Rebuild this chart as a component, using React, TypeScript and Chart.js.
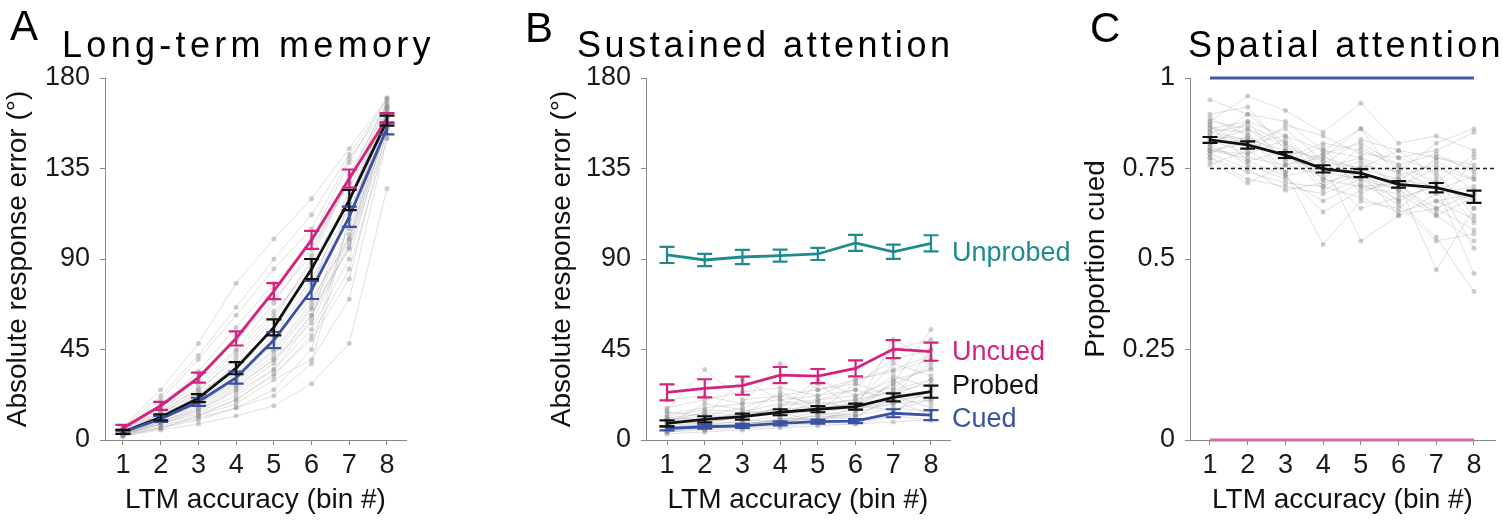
import React, { useEffect, useRef } from "react";
import { Chart, registerables } from "chart.js";
Chart.register(...registerables);

// ---------- data ----------
const bins = [1, 2, 3, 4, 5, 6, 7, 8];
const errTicksDeg = [0, 45, 90, 135, 180];
const propTicks = [0, 0.25, 0.5, 0.75, 1];

// Panel A: Long-term memory
const ltmUncued = [6, 17, 31, 50.5, 74, 99.5, 130, 160];
const ltmUncuedErr = [1.5, 2, 2.5, 3.5, 4, 4.5, 4.5, 2.5];
const ltmProbed = [4, 11.3, 20.8, 35.7, 56, 85, 119.3, 158.8];
const ltmProbedErr = [1, 1.5, 2, 3, 4, 5, 5, 2.5];
const ltmCued = [4, 10.5, 19, 31, 49.7, 74.6, 111, 155];
const ltmCuedErr = [1, 1.5, 2, 3, 4, 4.5, 5, 3];
const ltmSubjects = [
  [2, 6, 10, 16, 25, 45, 110, 160],
  [3, 8, 14, 22, 35, 60, 120, 165],
  [4, 10, 18, 30, 48, 75, 125, 162],
  [5, 14, 25, 40, 60, 90, 130, 168],
  [6, 18, 32, 52, 75, 100, 138, 170],
  [3, 9, 15, 25, 38, 62, 100, 158],
  [4, 12, 22, 38, 55, 80, 115, 155],
  [2, 5, 8, 12, 17, 28, 48, 125],
  [3, 7, 12, 18, 30, 40, 70, 150],
  [5, 20, 40, 62, 85, 105, 140, 166],
  [6, 25, 48, 78, 100, 120, 145, 170],
  [4, 11, 20, 33, 50, 70, 100, 160],
  [3, 10, 18, 28, 42, 65, 95, 152],
  [5, 15, 28, 45, 68, 95, 128, 165],
  [2, 8, 15, 24, 35, 55, 90, 158],
  [4, 13, 24, 42, 62, 88, 120, 163],
  [3, 6, 11, 16, 22, 38, 110, 162],
  [5, 16, 30, 50, 70, 92, 132, 167],
  [4, 12, 20, 30, 45, 68, 105, 160],
  [3, 9, 16, 26, 40, 58, 98, 156],
  [4, 14, 26, 44, 64, 85, 118, 164],
  [3, 8, 13, 20, 32, 52, 85, 150],
  [5, 17, 34, 56, 78, 98, 128, 166],
  [2, 6, 12, 20, 33, 50, 80, 155],
  [4, 11, 19, 29, 44, 66, 102, 161],
  [6, 22, 42, 66, 90, 112, 142, 169],
  [3, 9, 17, 27, 40, 62, 96, 157],
  [4, 13, 23, 36, 52, 78, 112, 163],
];

// Panel B: Sustained attention
const saUnprobed = [92, 89.5, 91, 91.7, 92.5, 98, 93.6, 97.8];
const saUnprobedErr = [4, 3, 3.5, 3, 3, 4, 3.5, 4];
const saUncued = [23.7, 25.7, 27, 32.3, 31.8, 35.6, 45.2, 43.9];
const saUncuedErr = [4, 4.5, 4.5, 4, 3.5, 4, 4.5, 4.5];
const saProbed = [8.3, 10.3, 11.6, 13.8, 15.3, 16.6, 21.2, 24];
const saProbedErr = [1.5, 1.5, 1.5, 1.5, 1.5, 1.5, 2, 3];
const saCued = [5.8, 6.6, 7, 8.3, 9.1, 9.4, 13.3, 12.4];
const saCuedErr = [1, 1, 1, 1, 1, 1, 2, 2.5];
const saSubjects = [
  [8, 10, 12, 14, 16, 18, 25, 30],
  [5, 6, 8, 10, 12, 15, 20, 22],
  [12, 15, 14, 18, 20, 22, 30, 35],
  [4, 5, 6, 7, 8, 8, 12, 10],
  [15, 35, 20, 22, 25, 28, 40, 45],
  [10, 12, 30, 20, 15, 18, 28, 55],
  [6, 8, 9, 12, 28, 15, 50, 40],
  [20, 22, 18, 38, 25, 30, 35, 42],
  [7, 9, 11, 13, 14, 16, 18, 20],
  [3, 4, 5, 6, 7, 8, 9, 10],
  [9, 14, 12, 16, 30, 22, 26, 38],
  [11, 10, 13, 15, 14, 28, 22, 30],
  [5, 7, 10, 9, 11, 13, 30, 18],
  [14, 12, 16, 22, 18, 20, 24, 28],
  [6, 6, 8, 10, 10, 12, 16, 14],
  [8, 18, 15, 12, 20, 25, 20, 45],
  [4, 6, 7, 9, 12, 10, 14, 25],
  [10, 8, 12, 24, 16, 18, 38, 32],
  [9, 11, 13, 15, 17, 20, 32, 26],
  [5, 8, 7, 11, 10, 14, 18, 24],
  [13, 16, 18, 20, 22, 30, 34, 40],
  [7, 5, 9, 8, 13, 11, 22, 16],
  [11, 13, 10, 17, 19, 16, 28, 36],
  [6, 9, 11, 14, 9, 17, 15, 20],
  [16, 20, 24, 26, 22, 25, 45, 50],
  [4, 7, 6, 10, 14, 12, 20, 12],
];

// Panel C: Spatial attention
const spCuedRef = [1, 1, 1, 1, 1, 1, 1, 1];
const spUncuedRef = [0, 0, 0, 0, 0, 0, 0, 0];
const spChance = 0.75;
const spProbed = [0.829, 0.815, 0.787, 0.749, 0.737, 0.706, 0.697, 0.672];
const spProbedErr = [0.008, 0.01, 0.008, 0.01, 0.011, 0.009, 0.013, 0.017];
const spSubjects = [
  [0.94, 0.9, 0.88, 0.8, 0.86, 0.78, 0.8, 0.85],
  [0.88, 0.95, 0.91, 0.85, 0.93, 0.82, 0.84, 0.8],
  [0.85, 0.83, 0.8, 0.72, 0.7, 0.68, 0.62, 0.55],
  [0.8, 0.78, 0.76, 0.78, 0.75, 0.72, 0.7, 0.46],
  [0.82, 0.86, 0.78, 0.74, 0.77, 0.7, 0.75, 0.72],
  [0.78, 0.72, 0.7, 0.68, 0.72, 0.66, 0.56, 0.41],
  [0.86, 0.88, 0.84, 0.8, 0.78, 0.74, 0.66, 0.68],
  [0.76, 0.8, 0.74, 0.54, 0.66, 0.64, 0.72, 0.6],
  [0.84, 0.82, 0.86, 0.77, 0.55, 0.62, 0.64, 0.58],
  [0.89, 0.84, 0.78, 0.82, 0.8, 0.76, 0.79, 0.74],
  [0.81, 0.77, 0.73, 0.63, 0.69, 0.71, 0.47, 0.64],
  [0.83, 0.9, 0.82, 0.76, 0.83, 0.8, 0.78, 0.76],
  [0.79, 0.75, 0.69, 0.71, 0.74, 0.62, 0.68, 0.7],
  [0.87, 0.81, 0.79, 0.75, 0.73, 0.69, 0.63, 0.78],
  [0.77, 0.71, 0.76, 0.73, 0.64, 0.67, 0.7, 0.66],
  [0.85, 0.87, 0.82, 0.7, 0.76, 0.74, 0.82, 0.86],
  [0.8, 0.79, 0.87, 0.84, 0.79, 0.78, 0.74, 0.62],
  [0.9, 0.92, 0.8, 0.78, 0.86, 0.72, 0.77, 0.72],
  [0.82, 0.76, 0.72, 0.66, 0.71, 0.65, 0.55, 0.57],
  [0.84, 0.83, 0.77, 0.81, 0.68, 0.73, 0.76, 0.69],
  [0.86, 0.85, 0.74, 0.79, 0.82, 0.76, 0.71, 0.79],
  [0.8, 0.82, 0.84, 0.74, 0.72, 0.69, 0.78, 0.75],
  [0.88, 0.86, 0.81, 0.77, 0.75, 0.8, 0.73, 0.64],
  [0.78, 0.74, 0.71, 0.7, 0.67, 0.63, 0.66, 0.61],
  [0.83, 0.79, 0.83, 0.72, 0.81, 0.75, 0.69, 0.73],
  [0.81, 0.88, 0.76, 0.79, 0.7, 0.71, 0.62, 0.67],
  [0.87, 0.77, 0.8, 0.69, 0.74, 0.66, 0.71, 0.53],
  [0.79, 0.84, 0.73, 0.75, 0.78, 0.7, 0.64, 0.68],
];

// ---------- styling ----------
const FONT = "'Liberation Sans', Arial, Helvetica, sans-serif";
const MAGENTA = "#d4237f";
const BLUE = "#3b52a3";
const TEAL = "#1f8b8f";
const BLACK = "#111111";
const PINK_LIGHT = "#d56aa9";
const BLUE_TOP = "#4458a7";
const AXIS_GRAY = "#8a8a8a";

const errorBarPlugin = {
  id: "errorBars",
  afterDatasetsDraw(chart: any) {
    const ctx = chart.ctx;
    const ys = chart.scales.y;
    chart.data.datasets.forEach((ds: any, i: number) => {
      if (!ds.errors) return;
      const meta = chart.getDatasetMeta(i);
      ctx.save();
      ctx.strokeStyle = ds.borderColor;
      ctx.lineWidth = 2.2;
      meta.data.forEach((pt: any, j: number) => {
        const v = ds.data[j].y;
        const e = ds.errors[j];
        const y1 = ys.getPixelForValue(v - e);
        const y2 = ys.getPixelForValue(v + e);
        const x = pt.x;
        const cw = 7.5;
        ctx.beginPath();
        ctx.moveTo(x, y1);
        ctx.lineTo(x, y2);
        ctx.moveTo(x - cw, y1);
        ctx.lineTo(x + cw, y1);
        ctx.moveTo(x - cw, y2);
        ctx.lineTo(x + cw, y2);
        ctx.stroke();
      });
      ctx.restore();
    });
  },
};

const toXY = (vals: number[]) => bins.map((b, i) => ({ x: b, y: vals[i] }));

const subjectDatasets = (subs: number[][]) =>
  subs.map((s) => ({
    data: toXY(s),
    borderColor: "rgba(160,160,160,0.32)",
    borderWidth: 1,
    pointRadius: 2.5,
    pointBackgroundColor: "rgba(140,140,140,0.42)",
    pointBorderWidth: 0,
    order: 10,
    clip: false as any,
  }));

const meanDataset = (vals: number[], errs: number[] | null, color: string, width = 2.8) => ({
  data: toXY(vals),
  errors: errs,
  borderColor: color,
  borderWidth: width,
  pointRadius: 0,
  order: 1,
  clip: false as any,
});

type PanelCfg = {
  canvasW: number;
  chartLeft: number;
  chartRight: number;
  xMin: number;
  xMax: number;
  yMin: number;
  yMax: number;
  yTicks: number[];
  yTitle: string;
  yTitlePad: number;
  datasets: any[];
};

function buildConfig(p: PanelCfg): any {
  const H = 528;
  const top = 78;
  const bottom = 440;
  return {
    type: "line",
    data: { datasets: p.datasets },
    options: {
      responsive: false,
      animation: false,
      devicePixelRatio: 1,
      events: [],
      layout: { padding: { left: 0, right: p.canvasW - p.chartRight, top: top, bottom: 0 } },
      plugins: { legend: { display: false }, tooltip: { enabled: false }, title: { display: false } },
      scales: {
        x: {
          type: "linear",
          min: p.xMin,
          max: p.xMax,
          afterBuildTicks: (s: any) => {
            s.ticks = bins.map((b) => ({ value: b }));
          },
          afterFit: (s: any) => {
            s.height = H - bottom;
          },
          ticks: {
            autoSkip: false,
            maxRotation: 0,
            padding: 4,
            color: "#1a1a1a",
            font: { family: FONT, size: 27 },
            callback: (v: any) => String(v),
          },
          grid: { display: true, drawOnChartArea: false, drawTicks: true, tickLength: 5, color: AXIS_GRAY },
          border: { display: true, color: AXIS_GRAY, width: 1 },
          title: {
            display: true,
            text: "LTM accuracy (bin #)",
            color: "#111",
            font: { family: FONT, size: 28 },
            padding: { top: 0, bottom: 11 },
          },
        },
        y: {
          type: "linear",
          min: p.yMin,
          max: p.yMax,
          afterBuildTicks: (s: any) => {
            s.ticks = p.yTicks.map((v) => ({ value: v }));
          },
          afterFit: (s: any) => {
            s.width = p.chartLeft;
          },
          ticks: {
            padding: 10,
            color: "#1a1a1a",
            font: { family: FONT, size: 27 },
            callback: (v: any) => String(v),
          },
          grid: { display: true, drawOnChartArea: false, drawTicks: true, tickLength: 5, color: AXIS_GRAY },
          border: { display: true, color: AXIS_GRAY, width: 1 },
          title: {
            display: true,
            text: p.yTitle,
            color: "#111",
            font: { family: FONT, size: 28 },
            padding: { top: p.yTitlePad, bottom: 0 },
          },
        },
      },
    },
    plugins: [errorBarPlugin],
  };
}

function ChartCanvas({ left, cfg }: { left: number; cfg: PanelCfg }) {
  const ref = useRef<HTMLCanvasElement | null>(null);
  useEffect(() => {
    if (!ref.current) return;
    const chart = new Chart(ref.current, buildConfig(cfg));
    return () => chart.destroy();
  }, []);
  return (
    <canvas
      ref={ref}
      width={cfg.canvasW}
      height={528}
      style={{ position: "absolute", left, top: 0, width: cfg.canvasW, height: 528 }}
    />
  );
}

const textStyle = (left: number, top: number, size: number, color: string, spacing = 0): React.CSSProperties => ({
  position: "absolute",
  left,
  top,
  fontFamily: FONT,
  fontSize: size,
  lineHeight: `${size}px`,
  color,
  letterSpacing: spacing,
  whiteSpace: "nowrap",
});

const C_XMAX = 8.557;

export default function App() {
  const panelA: PanelCfg = {
    canvasW: 500,
    chartLeft: 105,
    chartRight: 406,
    xMin: 0.523,
    xMax: 8.504,
    yMin: 0,
    yMax: 180,
    yTicks: errTicksDeg,
    yTitle: "Absolute response error (°)",
    yTitlePad: 1,
    datasets: [
      ...subjectDatasets(ltmSubjects),
      meanDataset(ltmCued, ltmCuedErr, BLUE),
      meanDataset(ltmUncued, ltmUncuedErr, MAGENTA),
      meanDataset(ltmProbed, ltmProbedErr, BLACK),
    ],
  };
  const panelB: PanelCfg = {
    canvasW: 460,
    chartLeft: 146,
    chartRight: 450,
    xMin: 0.443,
    xMax: 8.504,
    yMin: 0,
    yMax: 180,
    yTicks: errTicksDeg,
    yTitle: "Absolute response error (°)",
    yTitlePad: 45.7,
    datasets: [
      ...subjectDatasets(saSubjects),
      meanDataset(saCued, saCuedErr, BLUE),
      meanDataset(saProbed, saProbedErr, BLACK),
      meanDataset(saUncued, saUncuedErr, MAGENTA),
      meanDataset(saUnprobed, saUnprobedErr, TEAL),
    ],
  };
  const panelC: PanelCfg = {
    canvasW: 453,
    chartLeft: 140,
    chartRight: 445,
    xMin: 0.47,
    xMax: C_XMAX,
    yMin: 0,
    yMax: 1,
    yTicks: propTicks,
    yTitle: "Proportion cued",
    yTitlePad: 29.2,
    datasets: [
      ...subjectDatasets(spSubjects),
      {
        data: [
          { x: bins[0], y: spChance },
          { x: C_XMAX, y: spChance },
        ],
        borderColor: "#222",
        borderWidth: 1.3,
        borderDash: [4, 3],
        pointRadius: 0,
        order: 5,
        clip: false,
      },
      meanDataset(spCuedRef, null, BLUE_TOP, 3),
      meanDataset(spUncuedRef, null, PINK_LIGHT, 3),
      meanDataset(spProbed, spProbedErr, BLACK),
    ],
  };

  return (
    <div style={{ position: "absolute", left: 0, top: 0, width: 1503, height: 528, background: "#fff", overflow: "hidden" }}>
      <ChartCanvas left={0} cfg={panelA} />
      <ChartCanvas left={500} cfg={panelB} />
      <ChartCanvas left={1050} cfg={panelC} />

      <div style={textStyle(10, 4.5, 42, "#000")}>A</div>
      <div style={textStyle(525, 6.5, 42, "#000")}>B</div>
      <div style={textStyle(1090, 6.5, 42, "#000")}>C</div>

      <div style={textStyle(62, 26.5, 36, "#000", 4.3)}>Long-term memory</div>
      <div style={textStyle(577, 26.5, 36, "#000", 3.6)}>Sustained attention</div>
      <div style={textStyle(1188, 26.5, 36, "#000", 3.4)}>Spatial attention</div>

      <div style={textStyle(952, 239, 27, TEAL)}>Unprobed</div>
      <div style={textStyle(952, 338, 27, MAGENTA)}>Uncued</div>
      <div style={textStyle(952, 372, 27, BLACK)}>Probed</div>
      <div style={textStyle(952, 405, 27, BLUE)}>Cued</div>
    </div>
  );
}
